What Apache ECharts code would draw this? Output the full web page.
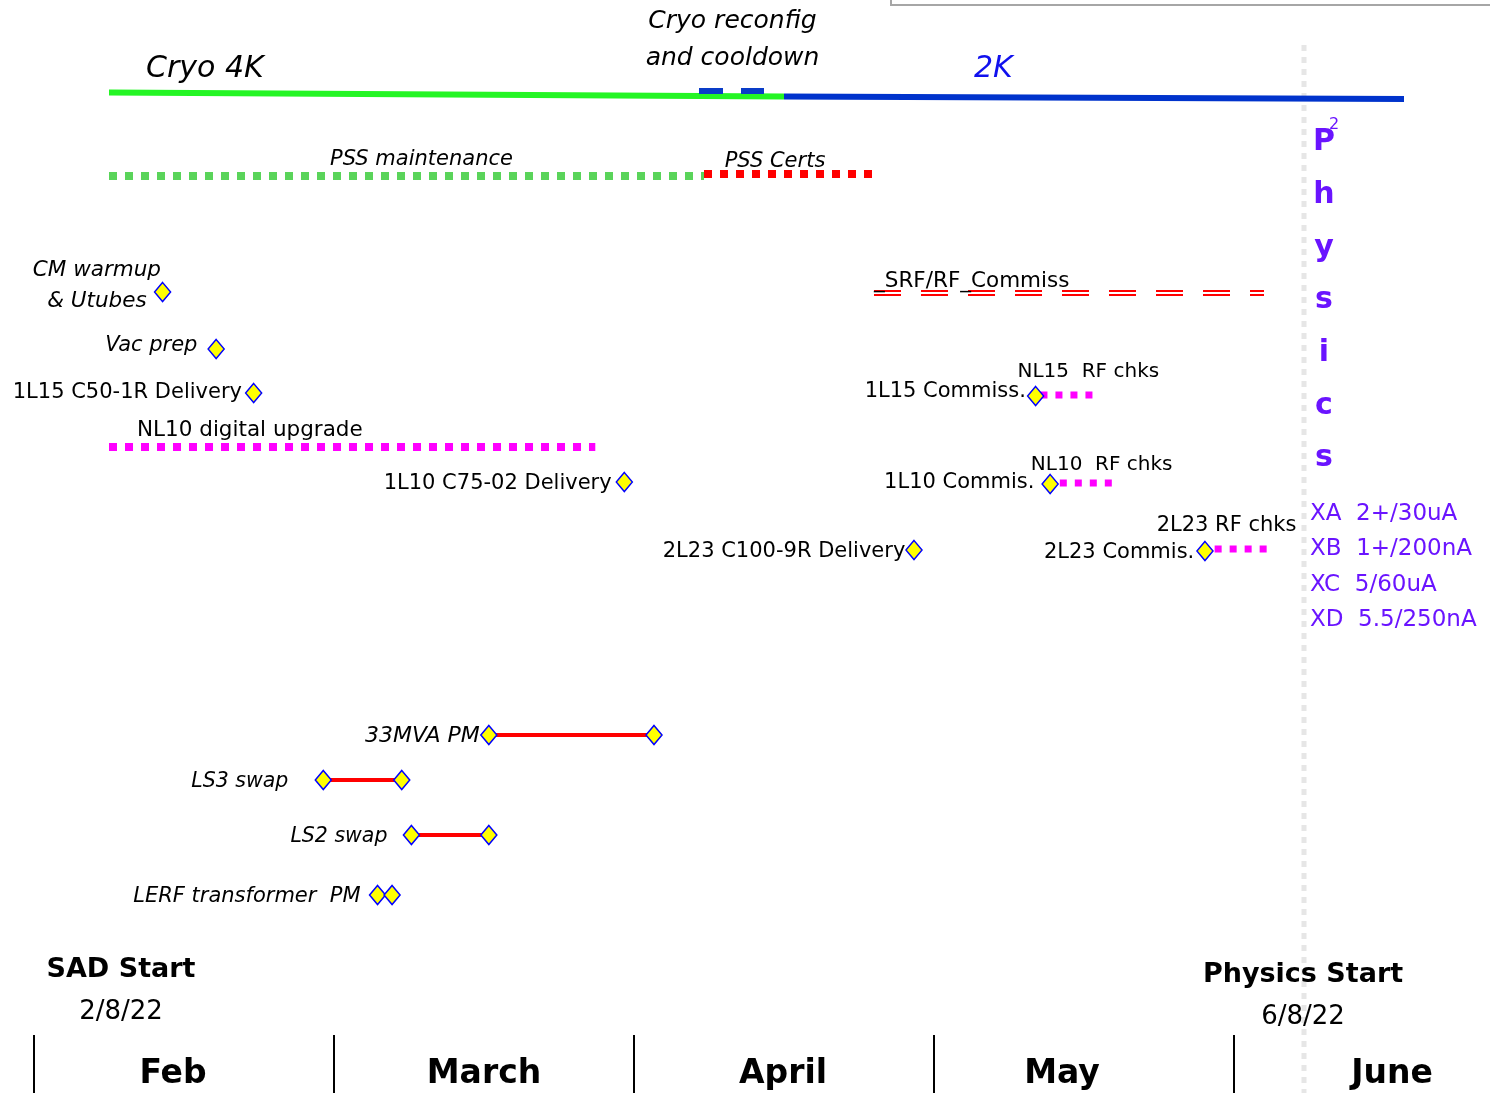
<!DOCTYPE html>
<html><head><meta charset="utf-8">
<script src="https://cdn.jsdelivr.net/npm/echarts@6/dist/echarts.min.js"></script>
<style>html,body{margin:0;padding:0;background:#fff}#c{width:1490px;height:1093px}</style>
</head><body><div id="c"></div>
<script>
// ---------------- DATA ----------------
const months = ['Feb', 'March', 'April', 'May', 'June'];
const monthDays = [28, 31, 30, 31, 30];

// Range tasks (month, day); rows are schedule lanes (top = 0)
const rangeNames = ['Cryo 4K', '2K', 'Cryo reconfig\nand cooldown', 'PSS maintenance', 'PSS Certs',
  '_SRF/RF_Commiss', 'NL10 digital upgrade', 'NL15  RF chks', 'NL10  RF chks', '2L23 RF chks',
  '33MVA PM', 'LS3 swap', 'LS2 swap', 'LERF transformer  PM'];
const rangeStart = [[2, 8], [4, 16], [4, 7.5], [2, 8], [4, 8], [4, 25], [2, 8], [5, 12], [5, 14], [5, 30],
  [3, 17], [2, 28], [3, 9], [3, 5.5]];
const rangeEnd = [[4, 16], [6, 18], [4, 14], [4, 8], [4, 25], [6, 4], [3, 28], [5, 18], [5, 20], [6, 5],
  [4, 3], [3, 8], [3, 17], [3, 7]];
const rangeRowStart = [9.25, 9.65, 9.1, 17.6, 17.4, 29.3, 44.7, 39.5, 48.3, 54.9, 73.5, 78.0, 83.5, 89.5];
const rangeRowEnd = [9.65, 9.9, 9.1, 17.6, 17.4, 29.3, 44.7, 39.5, 48.3, 54.9, 73.5, 78.0, 83.5, 89.5];
const rangeKinds = ['cryo4k', 'cryo2k', 'cooldown', 'pssMaint', 'pssCert', 'srf', 'nl10', 'rfchk', 'rfchk', 'rfchk',
  'pm', 'pm', 'pm', 'pair'];

// Single milestones
const milestoneNames = ['CM warmup\n& Utubes', 'Vac prep', '1L15 C50-1R Delivery', '1L10 C75-02 Delivery',
  '2L23 C100-9R Delivery', '1L15 Commiss.', '1L10 Commis.', '2L23 Commis.'];
const milestoneDates = [[2, 13], [2, 18], [2, 21.5], [3, 31], [4, 29], [5, 11.5], [5, 13], [5, 29]];
const milestoneRows = [29.2, 34.9, 39.3, 48.2, 55.0, 39.6, 48.4, 55.1];

// Key dates
const keyDateNames = ['SAD Start\n2/8/22', 'Physics Start\n6/8/22'];
const keyDates = [[2, 8], [6, 8]];
const physicsLineRows = [4.5, 109.3];

const beamLines = ['XA  2+/30uA', 'XB  1+/200nA', 'XC  5/60uA', 'XD  5.5/250nA'];

// ---------------- helpers / styles ----------------
function toX(md) { return (md[0] - 2) + (md[1] - 1) / monthDays[md[0] - 2]; }
const FONT = '"DejaVu Sans", "Open Sans", sans-serif';
const PURPLE = '#6a14ff';

const rangeStyles = {
  cryo4k: {stroke: '#24f524', width: 6},
  cryo2k: {stroke: '#0033cc', width: 6},
  cooldown: {stroke: '#0a3cc8', width: 6, dash: [24, 18]},
  pssMaint: {stroke: '#5ad45a', width: 8, dash: [8, 8]},
  pssCert: {stroke: '#ff0000', width: 8, dash: [8, 8]},
  srf: {stroke: '#ff0000', width: 2, dash: [27, 20], double: 4},
  nl10: {stroke: '#ff00ff', width: 8, dash: [8, 8]},
  rfchk: {stroke: '#ff00ff', width: 7, dash: [7, 8]},
  pm: {stroke: '#ff0000', width: 4, diamonds: true},
  pair: {diamonds: true}
};
const rangeLabelLayout = {
  'Cryo 4K': {at: 'start', dx: 37, dy: -23, align: 'left', size: 30, italic: true},
  '2K': {at: 'start', dx: 190, dy: -27, align: 'left', size: 30, italic: true, color: '#1010ee'},
  'Cryo reconfig\nand cooldown': {at: 'mid', dx: 1, dy: -51, align: 'center', size: 25, italic: true, lh: 37},
  'PSS maintenance': {at: 'mid', dx: 15, dy: -16, align: 'center', size: 21, italic: true},
  'PSS Certs': {at: 'mid', dx: -14, dy: -12, align: 'center', size: 21, italic: true},
  '_SRF/RF_Commiss': {at: 'start', dx: 0, dy: -12, align: 'left', size: 21.5},
  'NL10 digital upgrade': {at: 'start', dx: 28, dy: -17, align: 'left', size: 21.5},
  'NL15  RF chks': {at: 'start', dx: -23, dy: -23, align: 'left', size: 20},
  'NL10  RF chks': {at: 'start', dx: -29, dy: -18, align: 'left', size: 20},
  '2L23 RF chks': {at: 'start', dx: -58, dy: -23, align: 'left', size: 21},
  '33MVA PM': {at: 'start', dx: -9, dy: 1, align: 'right', size: 22, italic: true},
  'LS3 swap': {at: 'start', dx: -35, dy: 2, align: 'right', size: 20.5, italic: true},
  'LS2 swap': {at: 'start', dx: -24, dy: 2, align: 'right', size: 20.5, italic: true},
  'LERF transformer  PM': {at: 'start', dx: -17, dy: 2, align: 'right', size: 21, italic: true}
};
const milestoneLabelLayout = {
  'CM warmup\n& Utubes': {dist: 0, dx: -57, dy: -6, align: 'center', italic: true, lh: 31, size: 21.5},
  'Vac prep': {dist: 10, dy: -3, italic: true, size: 21},
  '1L15 C50-1R Delivery': {dist: 3, dy: 0},
  '1L10 C75-02 Delivery': {dist: 4, dy: 2},
  '2L23 C100-9R Delivery': {dist: 0, dy: 2},
  '1L15 Commiss.': {dist: 1, dy: -4},
  '1L10 Commis.': {dist: 7, dy: -1},
  '2L23 Commis.': {dist: 2, dy: 2}
};
const keyDateLayout = [{dx: 12}, {dx: -1}];
// horizontal nudges of month labels within their month band (px)
const monthLabelShift = {Feb: -11, March: 0, April: -1, May: -22, June: 8};

function diamond(c) {
  return {type: 'polygon', shape: {points: [[c[0], c[1] - 9.5], [c[0] + 8, c[1]], [c[0], c[1] + 9.5], [c[0] - 8, c[1]]]},
    style: {fill: '#ffff00', stroke: '#0000ff', lineWidth: 1.5}};
}

function renderRange(params, api) {
  const i = api.value(4);
  const name = rangeNames[i];
  const st = rangeStyles[rangeKinds[i]];
  const p0 = api.coord([api.value(0), api.value(2)]);
  const p1 = api.coord([api.value(1), api.value(3)]);
  const ch = [];
  if (st.width) {
    const offs = st.double ? [-st.double / 2, st.double / 2] : [0];
    offs.forEach(o => ch.push({type: 'line', shape: {x1: p0[0], y1: p0[1] + o, x2: p1[0], y2: p1[1] + o},
      style: {stroke: st.stroke, lineWidth: st.width, lineDash: st.dash || null, lineCap: 'butt'}}));
  }
  if (st.diamonds) { ch.push(diamond(p0)); ch.push(diamond(p1)); }
  const L = rangeLabelLayout[name];
  if (L) {
    const ax = L.at === 'mid' ? (p0[0] + p1[0]) / 2 : p0[0];
    const ay = L.at === 'mid' ? (p0[1] + p1[1]) / 2 : p0[1];
    ch.push({type: 'text', x: ax + L.dx, y: ay + L.dy, z2: 10, style: {text: name, fill: L.color || '#000',
      fontSize: L.size, fontStyle: L.italic ? 'italic' : 'normal', fontFamily: FONT,
      align: L.align, verticalAlign: 'middle', lineHeight: L.lh || L.size * 1.3}});
  }
  return {type: 'group', children: ch};
}

function renderKeyDate(params, api) {
  const i = api.value(1);
  const p = api.coord([api.value(0), 0]);
  const parts = keyDateNames[i].split('\n');
  const cx = p[0] + keyDateLayout[i].dx;
  const baseY = params.coordSys.y + params.coordSys.height;
  return {type: 'group', children: [
    {type: 'text', x: cx, y: baseY - 123 + i * 5, style: {text: parts[0], fontSize: 27, fontWeight: 'bold', fontFamily: FONT, fill: '#000', align: 'center', verticalAlign: 'middle'}},
    {type: 'text', x: cx, y: baseY - 81 + i * 5, style: {text: parts[1], fontSize: 26, fontFamily: FONT, fill: '#000', align: 'center', verticalAlign: 'middle'}}
  ]};
}

const rangeData = rangeNames.map((n, i) => [toX(rangeStart[i]), toX(rangeEnd[i]), rangeRowStart[i], rangeRowEnd[i], i]);
const milestoneData = milestoneNames.map((n, i) => {
  const L = milestoneLabelLayout[n];
  return {name: n, value: [toX(milestoneDates[i]), milestoneRows[i]],
    label: {show: true, position: 'left', distance: L.dist, offset: [L.dx || 0, L.dy || 0],
      align: L.align || 'right', lineHeight: L.lh || 26,
      fontStyle: L.italic ? 'italic' : 'normal', fontSize: L.size || 21, formatter: '{b}'}};
});
const physX = toX(keyDates[1]);

const monthRich = {};
months.forEach(m => {
  const s = monthLabelShift[m];
  monthRich['m' + m] = {fontSize: 33, fontWeight: 'bold', color: '#000', fontFamily: FONT,
    padding: s < 0 ? [0, -2 * s, 0, 0] : [0, 0, 0, 2 * s]};
});

const chart = echarts.init(document.getElementById('c'), null, {renderer: 'canvas'});
chart.setOption({
  animation: false,
  backgroundColor: '#fff',
  textStyle: {fontFamily: FONT},
  grid: {left: 34, top: 0, width: 1500, height: 1093, containLabel: false, outerBoundsMode: 'none'},
  xAxis: [
    {type: 'value', min: 0, max: 5, show: false},
    {type: 'category', data: months, position: 'bottom', boundaryGap: true,
      axisLine: {show: false},
      axisTick: {show: true, inside: true, interval: 0, length: 58, lineStyle: {color: '#000', width: 2}},
      axisLabel: {inside: true, interval: 0, hideOverlap: false, margin: 2, fontSize: 33, fontWeight: 'bold', color: '#000', fontFamily: FONT,
        formatter: v => '{m' + v + '|' + v + '}', rich: monthRich},
      splitLine: {show: false}}
  ],
  yAxis: {type: 'value', min: 0, max: 109.3, inverse: true, show: false},
  graphic: [
    {type: 'rect', shape: {x: 891, y: -40, width: 700, height: 45}, style: {fill: 'none', stroke: '#a6a6a6', lineWidth: 2}},
    {type: 'text', x: 1324, y: 116, style: {text: 'P\nh\ny\ns\ni\nc\ns', fontSize: 30, fontWeight: 'bold', fontFamily: FONT,
      fill: PURPLE, align: 'center', verticalAlign: 'top', lineHeight: 52.7}},
    {type: 'text', x: 1334, y: 125, style: {text: '2', fontSize: 16, fontFamily: FONT, fill: PURPLE, align: 'center', verticalAlign: 'middle'}},
    {type: 'text', x: 1310, y: 496, style: {text: beamLines.join('\n'), fontSize: 23, fontFamily: FONT, fill: PURPLE,
      align: 'left', verticalAlign: 'top', lineHeight: 35.5}}
  ],
  series: [
    {type: 'line', name: 'physics start', data: [[physX, physicsLineRows[0]], [physX, physicsLineRows[1]]],
      symbol: 'none', lineStyle: {color: '#e6e6e6', width: 5, type: [6, 6], cap: 'butt'}, z: 1},
    {type: 'custom', name: 'ranges', renderItem: renderRange, data: rangeData, z: 3},
    {type: 'scatter', name: 'milestones', data: milestoneData, symbol: 'path://M0,-9L8,0L0,9L-8,0Z', symbolSize: [16, 19],
      itemStyle: {color: '#ffff00', borderColor: '#0000ff', borderWidth: 1.5, opacity: 1},
      label: {color: '#000', fontFamily: FONT}, z: 4},
    {type: 'custom', name: 'keydates', renderItem: renderKeyDate, data: keyDates.map((d, i) => [toX(d), i]), z: 2}
  ]
});
</script></body></html>
